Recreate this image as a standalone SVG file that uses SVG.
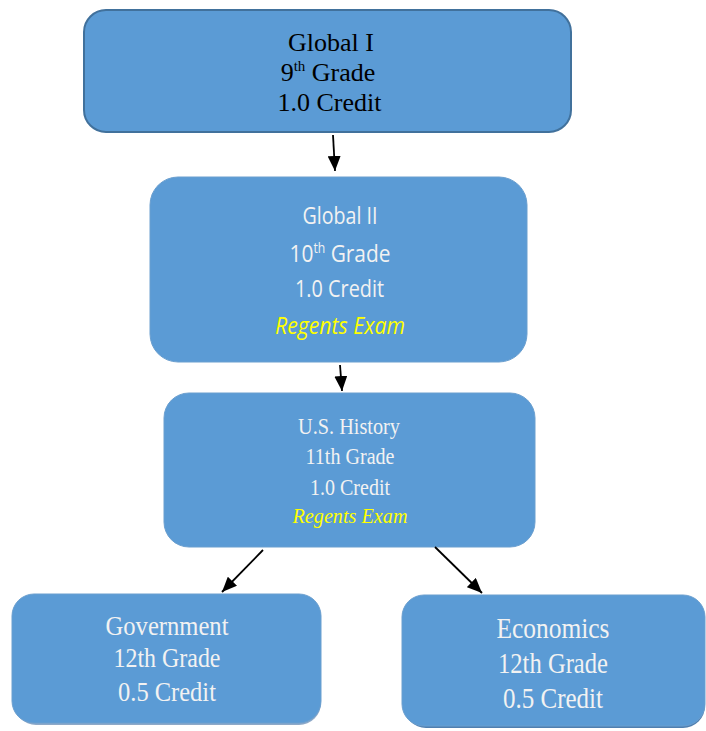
<svg xmlns="http://www.w3.org/2000/svg" width="706" height="731" viewBox="0 0 706 731">
<style>
.box{fill:#5B9BD5;}
.b1{stroke:#41719C;stroke-width:2;}
.bx{stroke:#6B9FCF;stroke-width:1;}
.tm{font-family:"Liberation Serif","Times New Roman",serif;text-anchor:middle;}
.sn{font-family:"Open Sans","Noto Sans",sans-serif;text-anchor:middle;}
.blk{fill:#000000;}
.wh{fill:#F2F2F2;}
.ye{fill:#FFFF00;font-style:italic;}
.conn line{stroke:#000;stroke-width:1.8;fill:none;}
</style>
<defs>
<marker id="ah" markerUnits="userSpaceOnUse" markerWidth="15" markerHeight="13" refX="15" refY="6.5" orient="auto">
<path d="M0,0 L15,6.5 L0,13 z" fill="#000"/>
</marker>
</defs>
<rect width="706" height="731" fill="#ffffff"/>
<g id="global1">
<rect class="box b1" x="84" y="10" width="487" height="122" rx="22"/>
<text class="tm blk" x="331" y="51" font-size="26">Global I</text>
<text class="tm blk" x="328" y="81" font-size="26">9<tspan font-size="15" dy="-10">th</tspan><tspan dy="10"> Grade</tspan></text>
<text class="tm blk" x="329.5" y="111" font-size="26">1.0 Credit</text>
</g>
<g id="global2">
<rect class="box bx" x="150" y="177" width="377" height="185" rx="28"/>
<text class="sn wh" x="340" y="224" font-size="24" textLength="75" lengthAdjust="spacingAndGlyphs">Global II</text>
<text class="sn wh" transform="translate(340,262) scale(0.87,1)" x="0" y="0" font-size="24">10<tspan font-size="14" dy="-9">th</tspan><tspan dy="9"> Grade</tspan></text>
<text class="sn wh" x="339.5" y="297" font-size="24" textLength="89" lengthAdjust="spacingAndGlyphs">1.0 Credit</text>
<text class="sn ye" x="340" y="334" font-size="24" textLength="130" lengthAdjust="spacingAndGlyphs">Regents Exam</text>
</g>
<g id="ushistory">
<rect class="box bx" x="164" y="393" width="371" height="154" rx="25"/>
<text class="tm wh" x="349" y="434" font-size="23" textLength="102" lengthAdjust="spacingAndGlyphs">U.S. History</text>
<text class="tm wh" x="350" y="464" font-size="23" textLength="89" lengthAdjust="spacingAndGlyphs">11th Grade</text>
<text class="tm wh" x="350" y="495" font-size="23" textLength="80" lengthAdjust="spacingAndGlyphs">1.0 Credit</text>
<text class="tm ye" x="350" y="523" font-size="21" textLength="115" lengthAdjust="spacingAndGlyphs">Regents Exam</text>
</g>
<g id="government">
<rect x="14" y="597" width="307" height="128" rx="22" fill="#8EA9C8"/>
<rect class="box bx" x="12" y="594" width="309" height="129" rx="22"/>
<text class="tm wh" x="167" y="635" font-size="27" textLength="123" lengthAdjust="spacingAndGlyphs">Government</text>
<text class="tm wh" x="167" y="667" font-size="27" textLength="107" lengthAdjust="spacingAndGlyphs">12th Grade</text>
<text class="tm wh" x="167" y="701" font-size="27" textLength="98" lengthAdjust="spacingAndGlyphs">0.5 Credit</text>
</g>
<g id="economics">
<rect x="404" y="598" width="301" height="130" rx="22" fill="#4F7FB0"/>
<rect class="box bx" x="402" y="595" width="303" height="131" rx="22"/>
<text class="tm wh" x="553" y="638" font-size="29" textLength="113" lengthAdjust="spacingAndGlyphs">Economics</text>
<text class="tm wh" x="553" y="673" font-size="29" textLength="110" lengthAdjust="spacingAndGlyphs">12th Grade</text>
<text class="tm wh" x="553" y="708" font-size="29" textLength="100" lengthAdjust="spacingAndGlyphs">0.5 Credit</text>
</g>
<g id="connectors" class="conn">
<line x1="333" y1="135" x2="335" y2="171" marker-end="url(#ah)"/>
<line x1="340" y1="365" x2="342" y2="391" marker-end="url(#ah)"/>
<line x1="263" y1="550" x2="222" y2="592" marker-end="url(#ah)"/>
<line x1="435" y1="547" x2="482" y2="593" marker-end="url(#ah)"/>
</g>
</svg>
